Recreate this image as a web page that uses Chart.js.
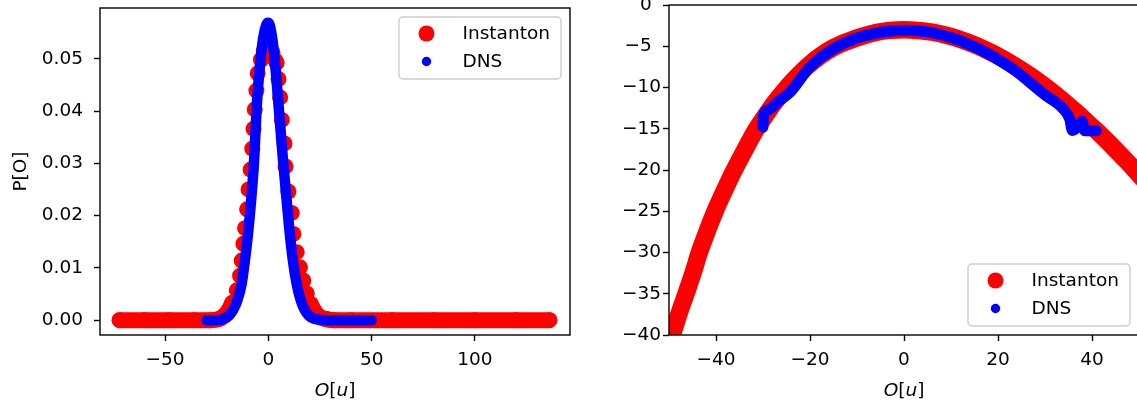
<!DOCTYPE html>
<html>
<head>
<meta charset="utf-8">
<script src="https://cdn.jsdelivr.net/npm/chart.js@4"></script>
<style>
  html, body { margin: 0; padding: 0; background: #fff; overflow: hidden; }
  #wrap { position: relative; width: 1137px; height: 408px; overflow: hidden; }
  canvas { position: absolute; top: 0; }
  #left { left: 0; }
  #right { left: 600px; }
</style>
</head>
<body>
<div id="wrap">
  <canvas id="left" width="600" height="408"></canvas>
  <canvas id="right" width="560" height="408"></canvas>
</div>
<script>
// left panel, P[O]
const instO = [-72, -60, -48, -36, -28, -24, -21.5, -19.5, -17.5, -15.3, -13.7, -12.9, -12.1, -11.3, -10.3, -9.6, -8.6, -7.8, -7.2, -6.6, -5.8, -5.2, -3.6, -2.2, -0.8, 0.6, 2.0, 3.4, 4.0, 4.9, 5.7, 6.5, 7.8, 8.3, 9.7, 11.3, 12.1, 13.7, 15.3, 16.9, 18.6, 20.5, 22.5, 25, 28, 32, 40, 60, 80, 100, 120, 136];
const instP = [0, 0, 0, 0, 0, 0.0002, 0.0008, 0.0017, 0.0033, 0.0057, 0.0085, 0.0114, 0.0146, 0.0176, 0.0212, 0.0250, 0.0288, 0.0328, 0.0366, 0.0403, 0.0439, 0.0472, 0.0498, 0.0515, 0.0524, 0.0522, 0.0512, 0.0497, 0.0492, 0.0461, 0.0426, 0.0383, 0.0338, 0.0294, 0.0246, 0.0205, 0.0165, 0.0130, 0.0101, 0.0076, 0.0051, 0.0031, 0.0016, 0.0006, 0.0002, 0, 0, 0, 0, 0, 0, 0];
const dnsO = [-30, -26, -23, -21, -19, -17, -15, -13, -11.5, -10, -8.4, -7, -5.5, -4, -2.5, -1, -0.3, 0.5, 2, 3.5, 4.8, 7, 8.9, 10.5, 12, 13.7, 15.5, 17.5, 19.5, 22, 25, 28, 35, 50];
const dnsP = [0, 0, 0.0001, 0.0004, 0.0009, 0.0020, 0.0038, 0.0068, 0.0110, 0.0160, 0.0227, 0.0300, 0.0417, 0.0490, 0.0540, 0.0565, 0.0569, 0.0566, 0.0535, 0.0480, 0.0417, 0.0310, 0.0227, 0.0160, 0.0110, 0.0069, 0.0040, 0.0020, 0.0009, 0.0003, 0.0001, 0, 0, 0];

// right panel, lnP[O]
const instLnO = [-50.5, -49.3, -47.8, -46.2, -44.9, -43.6, -42, -40.2, -38.3, -36.3, -34, -31.7, -29.6, -27.5, -25.5, -23.5, -20.7, -17.9, -15, -12, -9, -6, -3, 0, 3, 6, 9, 12, 15, 18.3, 21, 24, 26.5, 29, 31, 33.2, 35, 37, 39, 41, 43, 45, 47.3, 49.6, 51];
const instLnP = [-42.3, -40, -37.3, -34.7, -32.5, -30.1, -27.6, -25.0, -22.6, -20.2, -17.7, -15.3, -13.5, -11.8, -10.4, -9.1, -7.5, -6.2, -5.15, -4.4, -3.8, -3.34, -3.08, -3.0, -3.08, -3.3, -3.67, -4.18, -4.82, -5.68, -6.49, -7.5, -8.43, -9.44, -10.3, -11.3, -12.16, -13.15, -14.2, -15.26, -16.37, -17.52, -18.89, -20.3, -21.18];
const dnsLnO = [-30.0, -29.9, -28.8, -27.0, -24.3, -20, -15, -10, -5, 0, 5, 10, 16.2, 20, 24, 26.8, 30, 33.9, 35.3, 35.8, 37.4, 37.9, 38.5, 40.9];
const dnsLnP = [-14.8, -13.4, -12.7, -11.8, -10.6, -7.5, -5.3, -4.0, -3.3, -3.05, -3.25, -3.95, -5.4, -6.6, -8.1, -9.4, -10.9, -12.6, -13.9, -15.2, -14.5, -14.1, -15.25, -15.25];

const leftXTicks = [-50, 0, 50, 100];
const leftYTicks = [0, 0.01, 0.02, 0.03, 0.04, 0.05];
const rightXTicks = [-40, -20, 0, 20, 40];
const rightYTicks = [0, -5, -10, -15, -20, -25, -30, -35, -40];

const RED = '#ff0000';
const BLUE = '#0000ff';
const FONT = "'DejaVu Sans'";
const FS = 18.5;

Chart.defaults.font.family = FONT;
Chart.defaults.font.size = FS;
Chart.defaults.color = '#000';

const pts = (xs, ys) => xs.map((x, i) => ({ x: x, y: ys[i] }));
const minus = v => String(v).replace('-', '\u2212');
// single digit labels on the right panel sit further left, as in the source figure
const minusR = v => minus(v) + (Math.abs(v) < 10 ? '\u2002' : '');

function axis(min, max, ticks, fmt, size, isX, pad) {
  return {
    type: 'linear', min: min, max: max,
    afterBuildTicks: s => { s.ticks = ticks.map(v => ({ value: v })); },
    afterFit: s => {
      if (isX) s.height = size; else s.width = size;
      s.paddingTop = 0; s.paddingBottom = 0; s.paddingLeft = 0; s.paddingRight = 0;
    },
    grid: { drawOnChartArea: false, drawTicks: true, tickLength: 6, tickWidth: 1.4, tickColor: '#000' },
    border: { display: false },
    ticks: { padding: pad, autoSkip: false, maxRotation: 0, callback: fmt }
  };
}

// frame, axis titles and legend
const decor = {
  id: 'decor',
  afterDraw(chart, args, o) {
    const { ctx, chartArea: a } = chart;
    ctx.save();
    ctx.strokeStyle = '#000';
    ctx.lineWidth = 1.4;
    ctx.strokeRect(a.left, a.top, a.right - a.left, a.bottom - a.top);

    ctx.fillStyle = '#000';
    ctx.textBaseline = 'alphabetic';
    // x title O[u]
    const parts = [['O', 'italic'], ['[', 'normal'], ['u', 'italic'], [']', 'normal']];
    let w = 0;
    parts.forEach(p => { ctx.font = p[1] + ' ' + FS + 'px ' + FONT; w += ctx.measureText(p[0]).width; });
    let x = (a.left + a.right) / 2 - w / 2;
    parts.forEach(p => {
      ctx.font = p[1] + ' ' + FS + 'px ' + FONT;
      ctx.textAlign = 'left';
      ctx.fillText(p[0], x, 395.5);
      x += ctx.measureText(p[0]).width;
    });
    // y title
    ctx.font = FS + 'px ' + FONT;
    ctx.translate(o.yTitleX, (a.top + a.bottom) / 2);
    ctx.rotate(-Math.PI / 2);
    ctx.textAlign = 'center';
    ctx.fillText(o.yTitle, 0, 0);
    ctx.setTransform(1, 0, 0, 1, 0, 0);

    // legend
    const bw = 162, bh = 62;
    const bx = a.right - 9 - bw;
    const by = o.legendTop ? a.top + 9 : a.bottom - 9 - bh;
    ctx.fillStyle = 'rgba(255,255,255,0.8)';
    ctx.strokeStyle = '#cccccc';
    ctx.lineWidth = 1.4;
    ctx.beginPath();
    ctx.roundRect(bx, by, bw, bh, 4);
    ctx.fill();
    ctx.stroke();
    const entries = [chart.data.datasets[1], chart.data.datasets[0]];
    const radii = [8, 4.7];
    ctx.font = FS + 'px ' + FONT;
    ctx.textAlign = 'left';
    ctx.textBaseline = 'middle';
    entries.forEach((d, i) => {
      const cy = by + 16.5 + i * 28;
      ctx.fillStyle = d.pointBackgroundColor;
      ctx.beginPath();
      ctx.arc(bx + 27.5, cy, radii[i], 0, Math.PI * 2);
      ctx.fill();
      ctx.fillStyle = '#000';
      ctx.fillText(d.label, bx + 63.5, cy + 1);
    });
    ctx.restore();
  }
};

const lineStyle = (color, width) => ({
  showLine: true, borderColor: color, borderWidth: width,
  borderCapStyle: 'round', borderJoinStyle: 'round',
  cubicInterpolationMode: 'monotone', clip: 0, pointBackgroundColor: color
});

new Chart(document.getElementById('left'), {
  type: 'scatter',
  data: {
    datasets: [
      Object.assign({ label: 'DNS', data: pts(dnsO, dnsP), order: 0, pointRadius: 0 }, lineStyle(BLUE, 10.5)),
      Object.assign({
        label: 'Instanton', data: pts(instO, instP), order: 1,
        segment: { borderColor: c => (c.p0.parsed.y < 0.0035 && c.p1.parsed.y < 0.0035) ? RED : 'transparent' },
        pointRadius: 8, pointBorderWidth: 0
      }, lineStyle(RED, 16))
    ]
  },
  options: {
    responsive: false, animation: false, events: [],
    layout: { padding: { left: 0, right: 30, top: 5, bottom: 0 } },
    plugins: {
      legend: { display: false }, tooltip: { enabled: false },
      decor: { yTitle: 'P[O]', yTitleX: 25.5, legendTop: true }
    },
    scales: {
      x: axis(-81.5, 146, leftXTicks, minus, 73, true, 8),
      y: axis(-0.00284, 0.0597, leftYTicks, v => v.toFixed(2), 100, false, 11)
    }
  },
  plugins: [decor]
});

new Chart(document.getElementById('right'), {
  type: 'scatter',
  data: {
    datasets: [
      Object.assign({ label: 'DNS', data: pts(dnsLnO, dnsLnP), order: 0, pointRadius: 0 }, lineStyle(BLUE, 11)),
      Object.assign({ label: 'Instanton', data: pts(instLnO, instLnP), order: 1, pointRadius: 0 }, lineStyle(RED, 17.5))
    ]
  },
  options: {
    responsive: false, animation: false, events: [],
    layout: { padding: { left: 0, right: 21, top: 5, bottom: 0 } },
    plugins: {
      legend: { display: false }, tooltip: { enabled: false },
      decor: { yTitle: 'lnP[O]', yTitleX: -3, legendTop: false }
    },
    scales: {
      x: axis(-50, 50, rightXTicks, minus, 73, true, 8),
      y: axis(-40, 0, rightYTicks, minusR, 69, false, 2)
    }
  },
  plugins: [decor]
});
</script>
</body>
</html>
